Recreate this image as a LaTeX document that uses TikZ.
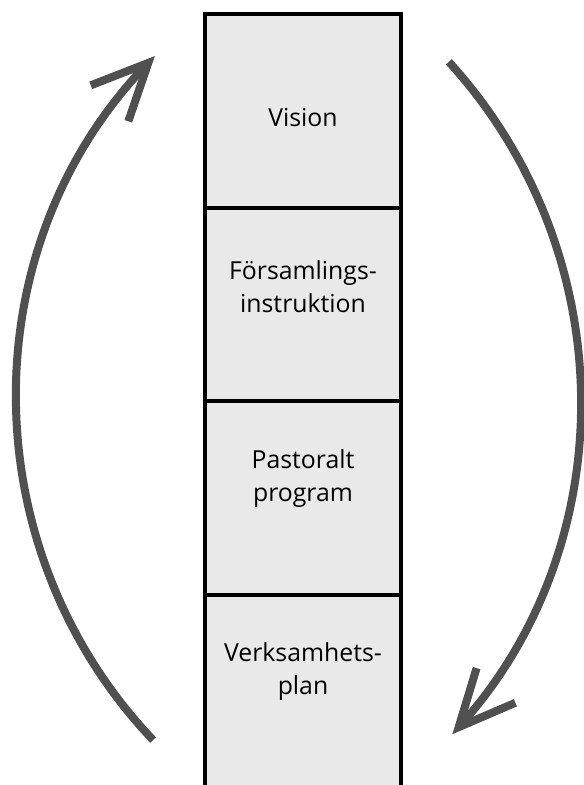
\documentclass[tikz,border=0pt]{standalone}
\usepackage{fontspec}
\setmainfont{Open Sans}
\usetikzlibrary{arrows.meta,calc}
\definecolor{arcgray}{HTML}{505050}
\definecolor{boxfill}{HTML}{E9E9E9}
\begin{document}
\begin{tikzpicture}[x=1pt,y=1pt,
  stackbox/.style={draw=black, line width=3.5pt, fill=boxfill, minimum width=196pt, inner sep=0pt},
  lbl/.style={anchor=base, inner sep=0pt, font=\fontsize{24.8}{30}\selectfont, text=black},
  cyclearc/.style={draw=arcgray, line width=8pt, line cap=butt,
    -{Straight Barb[length=56pt,width=52pt,sharp]}}]
\useasboundingbox (0,0) rectangle (584,785);
\clip (0,0) rectangle (584,785);
% stacked boxes
\node[stackbox, minimum height=194pt] (b1) at (303,674) {};
\node[stackbox, minimum height=193pt] (b2) at (303,480.5) {};
\node[stackbox, minimum height=194pt] (b3) at (303,287) {};
\node[stackbox, minimum height=194pt] (b4) at (303,93) {};
% labels
\node[lbl] (t1) at (303,658) {Vision};
\node[lbl] (t2a) at (303,505) {Församlings-};
\node[lbl] (t2b) at (303,472) {instruktion};
\node[lbl] (t3a) at (303,316) {Pastoralt};
\node[lbl] (t3b) at (303,283) {program};
\node[lbl] (t4a) at (303,123) {Verksamhets-};
\node[lbl] (t4b) at (303,90) {plan};
% circular arrows
\coordinate (lc) at (512.5,386);
\coordinate (rc) at (78.5,385);
\draw[cyclearc] ($(lc)+(223.5:495.5)$) arc[start angle=223.5, end angle=136.2, radius=495.5pt];
\draw[cyclearc] ($(rc)+(42.4:501.5)$) arc[start angle=42.4, end angle=-41.8, radius=501.5pt];
\end{tikzpicture}
\end{document}
